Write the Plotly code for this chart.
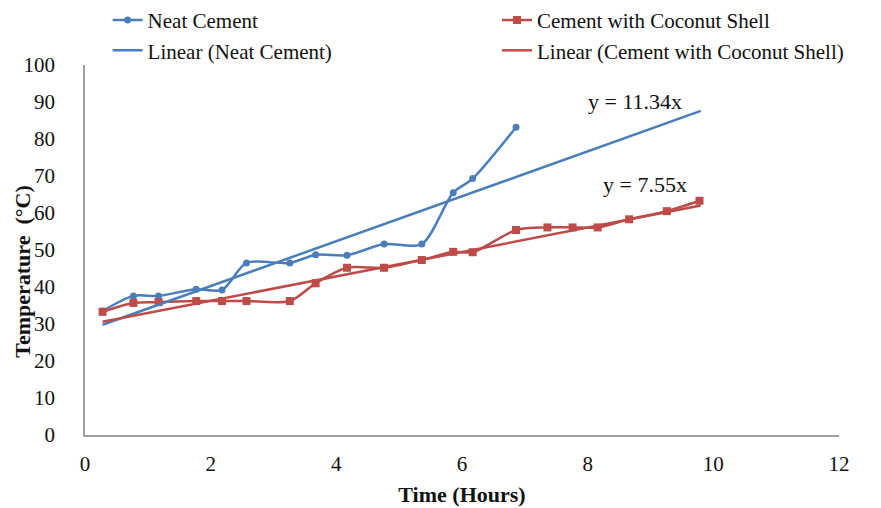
import plotly.graph_objects as go

# ---- data ----
time_neat = [0.28, 0.77, 1.17, 1.77, 2.18, 2.57, 3.26, 3.67, 4.17, 4.76, 5.36, 5.86, 6.17, 6.86]
temp_neat = [33.5, 37.6, 37.6, 39.4, 39.2, 46.5, 46.5, 48.7, 48.6, 51.6, 51.6, 65.5, 69.3, 83.2]

time_coco = [0.28, 0.77, 1.17, 1.77, 2.18, 2.57, 3.26, 3.67, 4.17, 4.76, 5.36, 5.86, 6.17, 6.86,
             7.36, 7.76, 8.16, 8.66, 9.26, 9.78]
temp_coco = [33.3, 35.7, 35.9, 36.2, 36.2, 36.2, 36.2, 41.0, 45.2, 45.2, 47.3, 49.5, 49.4, 55.4,
             56.1, 56.1, 56.1, 58.3, 60.5, 63.3]

trend_x = [0.28, 9.8]
trend_neat = [29.8, 87.6]
trend_coco = [30.6, 62.0]

eq_neat = "y = 11.34x"
eq_coco = "y = 7.55x"

x_ticks = [0, 2, 4, 6, 8, 10, 12]
y_ticks = [0, 10, 20, 30, 40, 50, 60, 70, 80, 90, 100]

BLUE = "#4A7EBB"
RED = "#BE4B48"
FONT = "Liberation Serif"

fig = go.Figure()
fig.add_trace(go.Scatter(
    x=time_neat, y=temp_neat, name="Neat Cement", mode="lines+markers",
    line=dict(color=BLUE, width=2.5, shape="spline", smoothing=0.8),
    marker=dict(symbol="circle", size=7, color=BLUE), legend="legend"))
fig.add_trace(go.Scatter(
    x=time_coco, y=temp_coco, name="Cement with Coconut Shell", mode="lines+markers",
    line=dict(color=RED, width=2.5, shape="spline", smoothing=0.8),
    marker=dict(symbol="square", size=8, color=RED), legend="legend2"))
fig.add_trace(go.Scatter(
    x=trend_x, y=trend_neat, name="Linear (Neat Cement)", mode="lines",
    line=dict(color=BLUE, width=2.5), legend="legend"))
fig.add_trace(go.Scatter(
    x=trend_x, y=trend_coco, name="Linear (Cement with Coconut Shell)", mode="lines",
    line=dict(color=RED, width=2.5), legend="legend2"))

fig.add_annotation(x=8.75, y=90.1, text=eq_neat, showarrow=False,
                   font=dict(family=FONT, size=22, color="#111"))
fig.add_annotation(x=8.91, y=67.6, text=eq_coco, showarrow=False,
                   font=dict(family=FONT, size=22, color="#111"))
fig.add_annotation(xref="paper", yref="paper", x=-0.084, y=0.443,
                   xanchor="center", yanchor="middle",
                   text="<b>Temperature  (°C)</b>", textangle=-90, showarrow=False,
                   font=dict(family=FONT, size=22, color="#111"))

legend_common = dict(orientation="v", yanchor="top", xanchor="left",
                     font=dict(family=FONT, size=21, color="#111"),
                     bgcolor="rgba(0,0,0,0)", tracegroupgap=0)

fig.update_layout(
    width=881, height=508,
    margin=dict(l=85, r=42, t=65, b=73, autoexpand=False),
    paper_bgcolor="white", plot_bgcolor="white",
    font=dict(family=FONT, color="#111"),
    showlegend=True,
    legend=dict(x=0.03, y=1.176, **legend_common),
    legend2=dict(x=0.5464, y=1.176, **legend_common),
    xaxis=dict(range=[0, 12], tickvals=x_ticks, showgrid=False, zeroline=False,
               showline=True, linecolor="#A0A0A0", linewidth=1.5,
               ticks="", ticklabelstandoff=9,
               tickfont=dict(family=FONT, size=21, color="#111"),
               title=dict(text="<b>Time (Hours)</b>", font=dict(family=FONT, size=22, color="#111"),
                          standoff=12)),
    yaxis=dict(range=[0, 100], tickvals=y_ticks, showgrid=False, zeroline=False,
               showline=True, linecolor="#A0A0A0", linewidth=1.5,
               ticks="", ticklabelstandoff=24,
               tickfont=dict(family=FONT, size=21, color="#111")),
)

fig.write_html("out.html")
